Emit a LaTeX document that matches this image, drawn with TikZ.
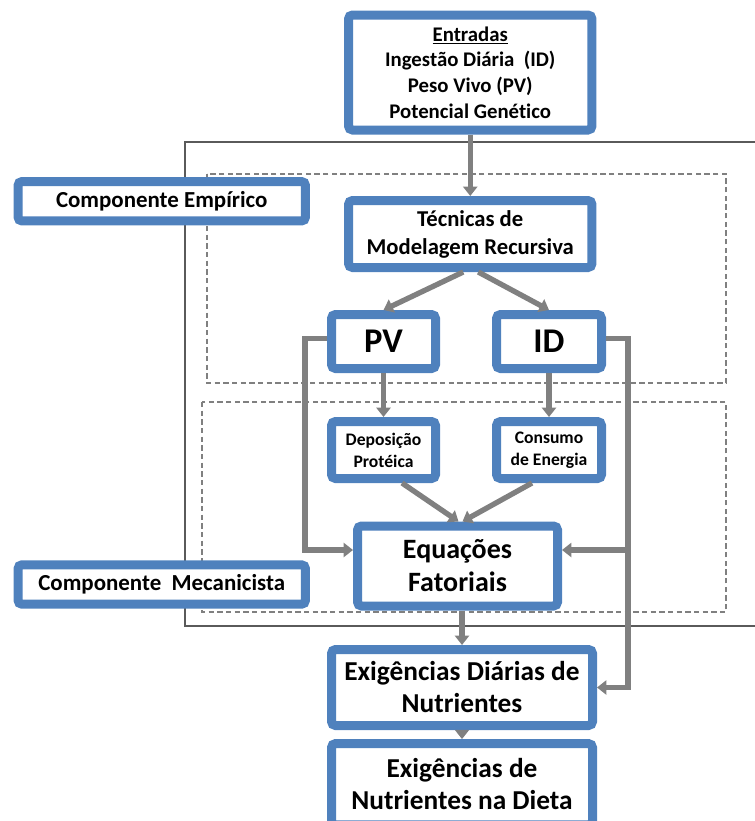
\documentclass[tikz,border=0pt]{standalone}
\usepackage{fontspec}
\setmainfont{Carlito}[Ligatures=NoCommon]
\usetikzlibrary{arrows.meta,calc}
\definecolor{boxblue}{HTML}{4F81BD}
\definecolor{flowgray}{HTML}{808080}
\definecolor{framegray}{HTML}{5A5A5A}
\tikzset{
  blockbox/.style={draw=boxblue, line width=6.75pt, rounded corners=3pt, fill=white, align=center, inner sep=1pt},
  flow/.style={draw=flowgray, line width=4pt, -{Triangle[length=7pt,width=10.5pt]}},
  framebox/.style={draw=framegray, line width=0.9pt},
  dashbox/.style={draw=flowgray, line width=0.9pt, dash pattern=on 4pt off 2.5pt}
}
\newcommand{\fs}[2]{\bfseries\fontsize{#1}{#2}\selectfont}

\begin{document}
\begin{tikzpicture}[x=0.75pt,y=-0.75pt]
\useasboundingbox (0,0) rectangle (754,821);
%frames
\draw[framebox] (760,142) -- (185,142) -- (185,626) -- (760,626);
\draw[dashbox] (207,174) rectangle (726,383);
\draw[dashbox] (202,402) rectangle (726,612);

%boxes
\node[blockbox, minimum width=182.6pt, minimum height=86.25pt, font=\fs{15.6}{19.3}] (entradas) at (470.25,72.5)
  {\underline{Entradas}\\Ingestão Diária\ \ (ID)\\Peso Vivo (PV)\\Potencial Genético};
\node[blockbox, minimum width=182.6pt, minimum height=50.25pt, font=\fs{17}{21}] (tecnicas) at (470.25,234)
  {Técnicas de\\Modelagem Recursiva};
\node[blockbox, minimum width=78pt, minimum height=40.5pt, font=\fs{26}{30}] (pv) at (383.5,341.5) {PV};
\node[blockbox, minimum width=78.75pt, minimum height=40.5pt, font=\fs{26}{30}] (id) at (549,341.5) {ID};
\node[blockbox, minimum width=78pt, minimum height=42.75pt, font=\fs{13.2}{16.5}] (deposicao) at (383.5,450)
  {Deposição\\Protéica};
\node[blockbox, minimum width=78.75pt, minimum height=42.75pt, font=\fs{13.2}{16.5}] (consumo) at (549,450)
  {Consumo\\de Energia};
\node[blockbox, minimum width=150pt, minimum height=60pt, font=\fs{21}{24.7}] (equacoes) at (457.5,566)
  {Equações\\Fatoriais};
\node[blockbox, minimum width=195.75pt, minimum height=57pt, font=\fs{20.5}{24}] (diarias) at (462,687.5)
  {Exigências Diárias de\\Nutrientes};
\node[blockbox, minimum width=195.75pt, minimum height=61pt, font=\fs{20.5}{24}] (dieta) at (462,784.25)
  {Exigências de\\Nutrientes na Dieta};

%components
\node[blockbox, minimum width=215.6pt, minimum height=29.6pt, font=\fs{17.2}{20}] (empirico) at (161.75,201.25)
  {Componente Empírico};
\node[blockbox, minimum width=215.6pt, minimum height=29.6pt, font=\fs{17.2}{20}] (mecanicista) at (161.75,584.5)
  {Componente\ \ Mecanicista};

%arrows
\draw[flow] (entradas) -- (tecnicas);
\draw[flow] ($(tecnicas.south)+(-7,0)$) -- (pv.north);
\draw[flow] ($(tecnicas.south)+(8,0)$) -- (id.north);
\draw[flow] (pv) -- (deposicao);
\draw[flow] (id) -- (consumo);
\draw[flow] ($(deposicao.south)+(18.5,0)$) -- ($(equacoes.north)+(1,0)$);
\draw[flow] ($(consumo.south)+(-17,0)$) -- ($(equacoes.north)+(5,0)$);
%side lines
\coordinate (eqleft) at ($(equacoes.west)+(0,-16)$);
\coordinate (eqright) at ($(equacoes.east)+(0,-16)$);
\coordinate (railpv) at ($(pv.west)+(-22,-3)$);
\coordinate (railid) at ($(id.east)+(22,-3)$);
\draw[flow] ($(pv.west)+(0,-3)$) -- (railpv) |- (eqleft);
\draw[flow] ($(id.east)+(0,-3)$) -- (railid) |- (diarias.east);
\draw[flow] (railid |- eqright) -- (eqright);
%results
\draw[flow] ($(equacoes.south)+(4.5,0)$) -- (diarias.north);
\draw[flow] (diarias) -- (dieta);
\end{tikzpicture}
\end{document}
